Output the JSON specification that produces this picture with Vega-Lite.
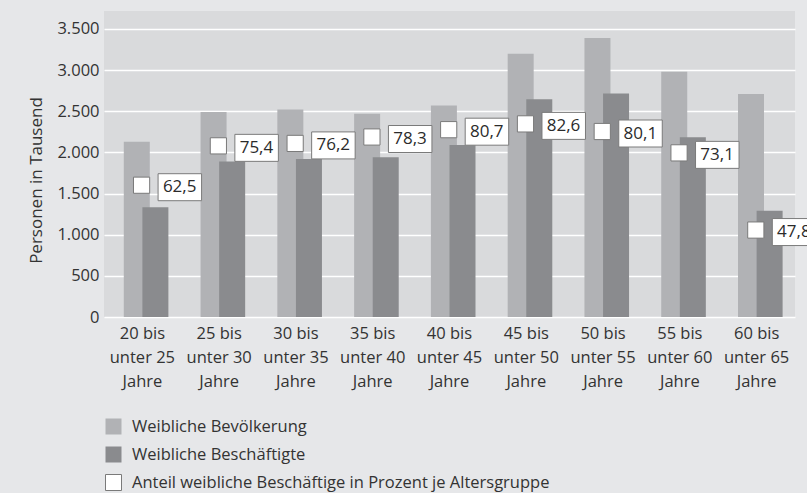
{
  "$schema": "https://vega.github.io/schema/vega-lite/v6.json",
  "width": 691,
  "height": 306,
  "autosize": {"type": "none"},
  "padding": {"left": 104, "top": 11, "right": 12, "bottom": 176},
  "background": "#e6e7e9",
  "config": {
    "font": "Open Sans",
    "view": {"fill": "#d9dadc", "stroke": null},
    "locale": {"number": {"decimal": ",", "thousands": ".", "grouping": [3], "currency": ["", " €"]}}
  },
  "data": {
    "values": [
      {"age": "20 bis unter 25 Jahre", "bev": 2130, "besch": 1335, "anteil": 62.5},
      {"age": "25 bis unter 30 Jahre", "bev": 2490, "besch": 1890, "anteil": 75.4},
      {"age": "30 bis unter 35 Jahre", "bev": 2520, "besch": 1920, "anteil": 76.2},
      {"age": "35 bis unter 40 Jahre", "bev": 2470, "besch": 1940, "anteil": 78.3},
      {"age": "40 bis unter 45 Jahre", "bev": 2570, "besch": 2090, "anteil": 80.7},
      {"age": "45 bis unter 50 Jahre", "bev": 3200, "besch": 2645, "anteil": 82.6},
      {"age": "50 bis unter 55 Jahre", "bev": 3390, "besch": 2715, "anteil": 80.1},
      {"age": "55 bis unter 60 Jahre", "bev": 2980, "besch": 2185, "anteil": 73.1},
      {"age": "60 bis unter 65 Jahre", "bev": 2710, "besch": 1290, "anteil": 47.8}
    ]
  },
  "encoding": {
    "x": {
      "field": "age",
      "type": "nominal",
      "sort": null,
      "scale": {"paddingInner": 0, "paddingOuter": 0},
      "axis": {
        "title": null,
        "labelAngle": 0,
        "domain": false,
        "ticks": false,
        "labelFontSize": 16.5,
        "labelColor": "#333333",
        "labelLineHeight": 24,
        "labelPadding": 8,
        "labelExpr": "[slice(datum.label, 0, 6), slice(datum.label, 7, 15), 'Jahre']"
      }
    }
  },
  "layer": [
    {
      "encoding": {
        "y": {
          "type": "quantitative",
          "scale": {"domain": [0, 3718], "nice": false},
          "axis": {
            "title": "Personen in Tausend",
            "titleFontSize": 17,
            "titleFontWeight": "normal",
            "titleColor": "#333333",
            "titlePadding": 11,
            "titleY": 169,
            "values": [0, 500, 1000, 1500, 2000, 2500, 3000, 3500],
            "format": ",.0f",
            "domain": false,
            "ticks": false,
            "labelFontSize": 16.5,
            "labelColor": "#333333",
            "labelPadding": 5,
            "gridColor": "#ffffff",
            "gridWidth": 1.5,
            "gridOpacity": 1
          }
        }
      },
      "layer": [
        {
          "mark": {"type": "bar", "width": 26, "xOffset": -5.6, "opacity": 1},
          "encoding": {
            "y": {"field": "bev", "type": "quantitative"},
            "color": {
              "datum": "Weibliche Bevölkerung",
              "scale": {
                "domain": ["Weibliche Bevölkerung", "Weibliche Beschäftigte", "Anteil weibliche Beschäftige in Prozent je Altersgruppe"],
                "range": ["#b1b2b5", "#8a8b8e", "#ffffff"]
              },
              "legend": {
                "orient": "none",
                "legendX": 1,
                "legendY": 407,
                "direction": "vertical",
                "title": null,
                "symbolType": "square",
                "symbolSize": 256,
                "symbolStrokeWidth": 1,
                "symbolStrokeColor": {"expr": "indexof(datum.label, 'Anteil') >= 0 ? '#7a7a7a' : 'transparent'"},
                "symbolOpacity": 1,
                "labelFontSize": 16.5,
                "labelColor": "#333333",
                "labelOffset": 10,
                "rowPadding": 7,
                "labelLimit": 600
              }
            }
          }
        },
        {
          "mark": {"type": "bar", "width": 26, "xOffset": 13, "opacity": 1},
          "encoding": {
            "y": {"field": "besch", "type": "quantitative"},
            "color": {"datum": "Weibliche Beschäftigte"}
          }
        }
      ]
    },
    {
      "encoding": {
        "y": {
          "field": "anteil",
          "type": "quantitative",
          "scale": {"domain": [19.3, 119.6], "nice": false, "zero": false},
          "axis": null
        }
      },
      "layer": [
        {
          "mark": {"type": "point", "shape": "square", "size": 262, "filled": true, "stroke": "#7a7a7a", "strokeWidth": 1, "opacity": 1, "xOffset": -0.8},
          "encoding": {"color": {"datum": "Anteil weibliche Beschäftige in Prozent je Altersgruppe"}}
        },
        {
          "mark": {"type": "point", "shape": "M16.5,-11.5L60,-11.5L60,15.5L16.5,15.5Z", "size": 4, "filled": true, "fill": "#ffffff", "stroke": "#7a7a7a", "strokeWidth": 1, "opacity": 1, "xOffset": -0.8}
        },
        {
          "mark": {"type": "text", "align": "left", "baseline": "middle", "dx": 20.5, "dy": 2, "fontSize": 17, "color": "#2b2b2b"},
          "encoding": {"text": {"field": "anteil", "type": "quantitative", "format": ".1f"}}
        }
      ]
    }
  ],
  "resolve": {"scale": {"y": "independent"}}
}
